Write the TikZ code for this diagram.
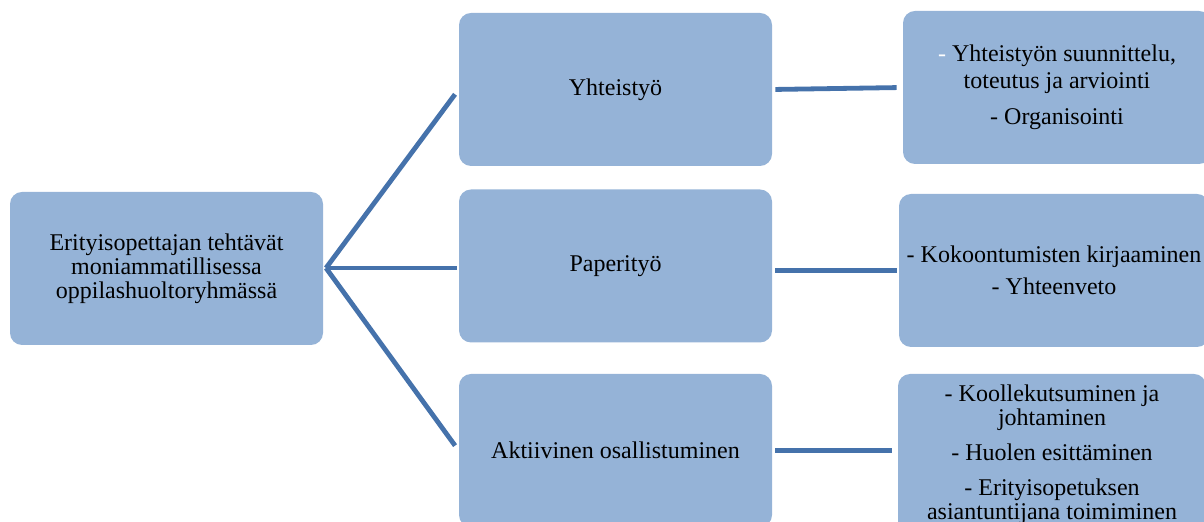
\documentclass[tikz,border=0pt]{standalone}
\usepackage{fontspec}
\setmainfont{Liberation Serif}
\usepackage{tikz}
\definecolor{boxblue}{HTML}{95B3D7}
\definecolor{lineblue}{HTML}{4572AB}

\begin{document}
\begin{tikzpicture}[x=0.5pt,y=-0.5pt,
        task/.style={fill=boxblue,rounded corners=6pt,minimum width=156.5pt,minimum height=76.5pt,
            align=center,inner sep=0pt,font=\fontsize{12}{12}\selectfont},
        link/.style={draw=lineblue,line width=2.4pt}]
                \useasboundingbox (0,0) rectangle (1204,522);
                \clip (0,0) rectangle (1204,522);

                \node[task] (root) at (166.5,268.5) {Erityisopettajan tehtävät\\moniammatillisessa\\oppilashuoltoryhmässä};

                \node[task] (yht) at (615.5,89.5) {Yhteistyö};
                \node[task] (pap) at (615.5,266) {Paperityö};
                \node[task] (akt) at (615.5,450.5) {Aktiivinen osallistuminen};

                \node[task,minimum width=154pt] (yhtlist) at (1057,87.5)
                    {{\color{white}-} Yhteistyön suunnittelu,\\[1.5pt]toteutus ja arviointi\\[6pt]- Organisointi};
                \node[task,minimum width=155pt] (paplist) at (1054,270.5)
                    {- Kokoontumisten kirjaaminen\\[4pt]- Yhteenveto};
                \node[task,minimum width=154pt,minimum height=80.5pt] (aktlist) at (1052,454.5)
                    {- Koollekutsuminen ja\\johtaminen\\[5.5pt]- Huolen esittäminen\\[5.5pt]- Erityisopetuksen\\asiantuntijana toimiminen};

                \coordinate (hub) at (326,268);
                \draw[link,shorten >=3pt] (hub) -- (yht.west);
                \draw[link,shorten >=1pt] (hub) -- (hub -| pap.west);
                \draw[link,shorten >=3pt] (hub) -- (akt.west);
                \draw[link,shorten <=1.5pt,shorten >=3pt] (yht.east) -- (yhtlist.west);
                \draw[link,shorten <=1.5pt,shorten >=1pt] (pap.east |- paplist.west) -- (paplist.west);
                \draw[link,shorten <=1.5pt,shorten >=3pt] (akt.east) -- (akt.east -| aktlist.west);
            \end{tikzpicture}
\end{document}
